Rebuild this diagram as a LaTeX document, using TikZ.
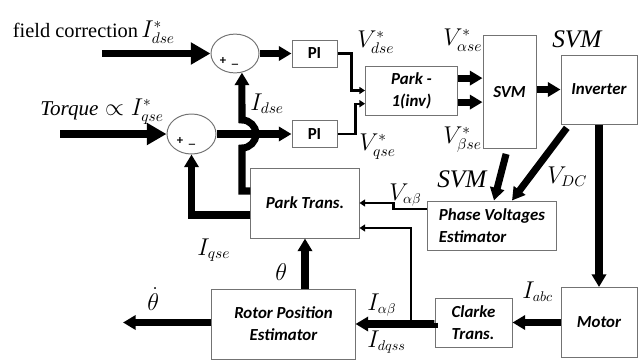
\documentclass[tikz,border=0pt]{standalone}
\usepackage{fontspec}
\setmainfont{Liberation Serif}
\newfontfamily\boxfont{Carlito}
\DeclareMathSizes{19}{19}{11}{8}
\DeclareMathSizes{17}{17}{10}{7}
\usetikzlibrary{arrows.meta,shapes.geometric}
\tikzset{
  every picture/.style={x=0.025cm, y=-0.025cm},
  blk/.style={draw=black!55, line width=0.7pt, fill=white, inner sep=1pt, align=center,
    font=\boxfont\bfseries\itshape\fontsize{12}{15.5}\selectfont},
  sumnode/.style={ellipse, draw=black!55, line width=0.7pt, inner sep=0pt},
  sign/.style={font=\boxfont\bfseries\fontsize{9}{9}\selectfont, inner sep=0pt},
  big/.style={line width=5pt, -{Triangle[length=9pt,width=10pt]}},
  bigin/.style={big, -{Triangle[length=14pt,width=15pt]}},
  feed/.style={line width=1.6pt, -{Triangle[length=4pt,width=5pt]}},
  sig/.style={font=\fontsize{19}{21}\selectfont, inner sep=0pt, anchor=base west},
  sigs/.style={sig, font=\fontsize{17}{19}\selectfont},
  tag/.style={font=\itshape\fontsize{18}{20}\selectfont, inner sep=0pt, anchor=base west},
}

\begin{document}
\begin{tikzpicture}
  \useasboundingbox (0,0) rectangle (644,363);
  % blocks
  \node[sumnode, minimum width=1.2cm, minimum height=0.97cm] (sumd) at (235,53.5) {};
  \node[sumnode, minimum width=1.225cm, minimum height=1cm] (sumq) at (191.5,134) {};
  \node[sign] (pd) at (223,61) {+};
  \node[sign] (md) at (235,64) {\_};
  \node[sign] (pq) at (180,141) {+};
  \node[sign] (mq) at (192,144) {\_};
  \node[blk, font=\boxfont\bfseries\fontsize{12}{14}\selectfont, minimum width=1.125cm, minimum height=0.675cm] (pid) at (314.5,53.5) {PI};
  \node[blk, font=\boxfont\bfseries\fontsize{12}{14}\selectfont, minimum width=1.125cm, minimum height=0.675cm] (piq) at (314.5,134) {PI};
  \node[blk, minimum width=2.3cm, minimum height=1.225cm] (parkinv) at (411.5,90.5) {Park -\\1(inv)};
  \node[blk, minimum width=1.325cm, minimum height=2.8cm] (svm) at (509.5,92) {SVM};
  \node[blk, minimum width=1.9cm, minimum height=1.725cm] (inv) at (599,89.5) {Inverter};
  \node[blk, align=left, minimum width=3.2cm, minimum height=1.225cm] (phase) at (492,225.5) {Phase Voltages\\Estimator};
  \node[blk, minimum width=2.7cm, minimum height=1.75cm] (park) at (305,203) {Park Trans.};
  \node[blk, minimum width=1.9cm, minimum height=1.75cm] (motor) at (599,322.5) {Motor};
  \node[blk, align=left, minimum width=1.925cm, minimum height=1.225cm] (clarke) at (473.5,322.5) {Clarke\\Trans.};
  \node[blk, minimum width=3.575cm, minimum height=1.75cm] (rotor) at (283.5,324) {Rotor Position\\Estimator};
  \coordinate (ind) at (102,53.5);
  \coordinate (inq) at (60,134);
  \coordinate (br) at (411,322.5);
  \coordinate (thout) at (123,322.5);
  % connectors
  \draw[bigin] (ind) -- (sumd.west);
  \draw[bigin] (inq) -- (sumq.west);
  \draw[big] (sumd.east) -- (pid.west);
  \draw[big] (sumq.east) -- (piq.west);
  \draw[big] ([yshift=0.3cm]park.west) -| (242,148) arc[start angle=-90, end angle=90, radius=0.35cm] -- (sumd.-70);
  \draw[big] ([yshift=-0.3cm]park.west) -| (sumq.south);
  \draw[feed] (pid.east) -- ++(14,0) |- (parkinv.west);
  \draw[feed] (piq.east) -- ++(18,0) |- ([yshift=-0.33cm]parkinv.west);
  \draw[big] ([yshift=0.31cm]parkinv.east) -- ([yshift=0.31cm]parkinv.east -| svm.west);
  \draw[big] ([yshift=-0.29cm]parkinv.east) -- ([yshift=-0.29cm]parkinv.east -| svm.west);
  \draw[big] (svm.east |- inv.west) -- (inv.west);
  \draw[big] (inv.south) -- (motor.north);
  \draw[big, shorten <=3pt] ([xshift=0.22cm]inv.south west) -- ([xshift=0.5cm]phase.north);
  \draw[big, shorten <=4pt] ([xshift=-0.05cm]svm.south) -- ([xshift=0.05cm]phase.north);
  \draw[feed] ([yshift=0.41cm]phase.west) -- ++(-34,0) |- (park.east);
  \draw[big] (motor.west) -- (clarke.east);
  \draw[big] (clarke.west) -- (rotor.east -| clarke.west) -- (rotor.east);
  \draw[feed] (br) |- ([yshift=-0.625cm]park.east);
  \draw[big] (rotor.north -| park.south) -- (park.south);
  \draw[big] (rotor.west |- thout) -- (thout);
  % labels
  \node[font=\fontsize{14.5}{16}\selectfont, inner sep=0pt, anchor=base] (lfc) at (75.5,37) {field correction};
  \node[sig] (lidr) at (141,37) {$I^*_{dse}$};
  \node[sig] (liqr) at (40,115) {{\itshape\fontsize{15}{16}\selectfont Torque} $\propto I^*_{qse}$};
  \node[sig] (lid) at (250,110) {$I_{dse}$};
  \node[sig] (liq) at (197,255) {$I_{qse}$};
  \node[sig] (lvd) at (357,47) {$V^*_{dse}$};
  \node[sig] (lvq) at (359,150) {$V^*_{qse}$};
  \node[sig] (lva) at (443,45) {$V^*_{\alpha se}$};
  \node[sig] (lvb) at (443,143) {$V^*_{\beta se}$};
  \node[tag] (lsvma) at (552,47) {SVM};
  \node[tag] (lsvmb) at (437,187) {SVM};
  \node[sig] (lvdc) at (547,183) {$V_{DC}$};
  \node[sigs] (lvab) at (389,200) {$V_{\alpha\beta}$};
  \node[sig] (lth) at (275,280) {$\theta$};
  \node[sig] (lthd) at (147,310) {$\dot\theta$};
  \node[sigs] (liabc) at (522,298) {$I_{abc}$};
  \node[sigs] (liab) at (367,310) {$I_{\alpha\beta}$};
  \node[sigs] (lidq) at (367,347) {$I_{dqss}$};
\end{tikzpicture}
\end{document}
